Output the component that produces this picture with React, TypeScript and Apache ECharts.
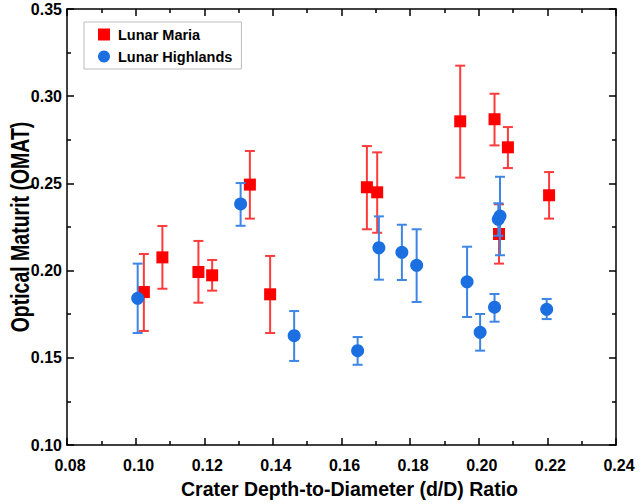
import React, { useEffect, useRef } from "react";
import * as echarts from "echarts";

const xTicks = { min: 0.08, max: 0.24, interval: 0.02 };
const yTicks = { min: 0.1, max: 0.35, interval: 0.05 };
const xTitle = "Crater Depth-to-Diameter (d/D) Ratio";
const yTitle = "Optical Maturit (OMAT)";

const mariaX = [0.1024, 0.1078, 0.1183, 0.1223, 0.1333, 0.1392, 0.1674, 0.1704, 0.1946, 0.2046, 0.2085, 0.2205, 0.2059];
const mariaY = [0.1877, 0.2076, 0.1992, 0.1973, 0.2493, 0.1864, 0.2478, 0.2449, 0.2856, 0.2868, 0.2707, 0.2432, 0.221];
const mariaHigh = [0.2095, 0.2256, 0.217, 0.2061, 0.2686, 0.2084, 0.2714, 0.2678, 0.3175, 0.3014, 0.2823, 0.2565, 0.238];
const mariaLow = [0.1654, 0.1896, 0.1816, 0.1885, 0.2298, 0.1642, 0.2237, 0.2217, 0.2533, 0.2718, 0.2588, 0.2298, 0.204];

const highX = [0.1006, 0.1306, 0.1462, 0.1647, 0.1709, 0.1776, 0.1819, 0.1966, 0.2004, 0.2046, 0.2057, 0.2062, 0.2198];
const highY = [0.1841, 0.2382, 0.1627, 0.1541, 0.2131, 0.2105, 0.203, 0.1936, 0.1646, 0.179, 0.2294, 0.2313, 0.1778];
const highHigh = [0.204, 0.2502, 0.1768, 0.1619, 0.2311, 0.2263, 0.2237, 0.2137, 0.1751, 0.1866, 0.2386, 0.2538, 0.1837];
const highLow = [0.1642, 0.2257, 0.1482, 0.146, 0.1948, 0.1946, 0.182, 0.1734, 0.1541, 0.1707, 0.22, 0.2088, 0.1722];

const RED = "#ff0000";
const RED_ERR = "#ff3b3b";
const BLUE = "#1b6fe0";
const BLUE_ERR = "#3d86e6";
const FONT = "'Liberation Sans', Arial, sans-serif";

function errorSeries(xs: number[], lows: number[], highs: number[], color: string, z: number) {
  return {
    type: "custom",
    z,
    silent: true,
    data: xs.map((x, i) => [x, lows[i], highs[i]]),
    renderItem: (_params: any, api: any) => {
      const lo = api.coord([api.value(0), api.value(1)]);
      const hi = api.coord([api.value(0), api.value(2)]);
      const hw = 5;
      const style = { stroke: color, lineWidth: 2 };
      return {
        type: "group",
        children: [
          { type: "line", shape: { x1: lo[0], y1: lo[1], x2: hi[0], y2: hi[1] }, style },
          { type: "line", shape: { x1: lo[0] - hw, y1: lo[1], x2: lo[0] + hw, y2: lo[1] }, style },
          { type: "line", shape: { x1: hi[0] - hw, y1: hi[1], x2: hi[0] + hw, y2: hi[1] }, style },
        ],
      };
    },
  };
}

const axisLineStyle = { lineStyle: { color: "#000", width: 1.5 } };

export default function App() {
  const ref = useRef<HTMLDivElement>(null);
  useEffect(() => {
    if (!ref.current) return;
    const chart = echarts.init(ref.current, null, { renderer: "svg" });
    const baseX = {
      type: "value",
      min: xTicks.min,
      max: xTicks.max,
      interval: xTicks.interval,
      axisLine: { show: true, onZero: false, ...axisLineStyle },
      axisTick: { show: true, inside: true, length: 7, lineStyle: { color: "#000", width: 1.5 } },
      minorTick: { show: true, splitNumber: 2, length: 4, lineStyle: { color: "#000", width: 1.5 } },
      splitLine: { show: false },
    };
    const baseY = {
      type: "value",
      min: yTicks.min,
      max: yTicks.max,
      interval: yTicks.interval,
      axisLine: { show: true, onZero: false, ...axisLineStyle },
      axisTick: { show: true, inside: true, length: 7, lineStyle: { color: "#000", width: 1.5 } },
      minorTick: { show: true, splitNumber: 2, length: 4, lineStyle: { color: "#000", width: 1.5 } },
      splitLine: { show: false },
    };
    chart.setOption({
      animation: false,
      backgroundColor: "#fff",
      textStyle: { fontFamily: FONT },
      grid: { left: 67, right: 25, top: 9, bottom: 59, containLabel: false },
      graphic: [
        {
          type: "text",
          x: 21,
          y: 227,
          rotation: Math.PI / 2,
          scaleY: 1.28,
          style: {
            text: yTitle,
            fontFamily: FONT,
            fontSize: 19.5,
            fontWeight: "bold",
            fill: "#000",
            align: "center",
            verticalAlign: "middle",
          },
        },
      ],
      legend: {
        left: 84,
        top: 22,
        orient: "vertical",
        itemWidth: 12,
        itemHeight: 12,
        itemGap: 7,
        padding: [5, 9, 5, 14],
        borderColor: "#bbbbbb",
        borderWidth: 1,
        backgroundColor: "#fff",
        textStyle: { fontFamily: FONT, fontSize: 14.5, fontWeight: "bold", color: "#000", padding: [0, 0, 0, 3] },
        data: [
          { name: "Lunar Maria", icon: "rect" },
          { name: "Lunar Highlands", icon: "circle" },
        ],
      },
      xAxis: [
        {
          ...baseX,
          position: "bottom",
          name: xTitle,
          nameLocation: "middle",
          nameGap: 34,
          nameTextStyle: {
            fontFamily: FONT,
            fontSize: 19.5,
            fontWeight: "bold",
            color: "#000",
            padding: [0, 0, 0, 16],
          },
          axisLabel: {
            fontFamily: FONT,
            fontSize: 16,
            fontWeight: "bold",
            color: "#000",
            margin: 12,
            padding: [0, 0, 0, 6],
            formatter: (v: number) => v.toFixed(2),
          },
        },
        { ...baseX, position: "top", axisLabel: { show: false } },
      ],
      yAxis: [
        {
          ...baseY,
          position: "left",
          axisLabel: {
            fontFamily: FONT,
            fontSize: 16,
            fontWeight: "bold",
            color: "#000",
            margin: 5,
            formatter: (v: number) => v.toFixed(2),
          },
        },
        { ...baseY, position: "right", axisLabel: { show: false } },
      ],
      series: [
        errorSeries(mariaX, mariaLow, mariaHigh, RED_ERR, 1),
        {
          name: "Lunar Maria",
          type: "scatter",
          symbol: "rect",
          symbolSize: 12,
          z: 2,
          itemStyle: { color: RED, opacity: 1 },
          data: mariaX.map((x, i) => [x, mariaY[i]]),
        },
        errorSeries(highX, highLow, highHigh, BLUE_ERR, 3),
        {
          name: "Lunar Highlands",
          type: "scatter",
          symbol: "circle",
          symbolSize: 13,
          z: 4,
          itemStyle: { color: BLUE, opacity: 1 },
          data: highX.map((x, i) => [x, highY[i]]),
        },
      ],
    });
    return () => chart.dispose();
  }, []);
  return (
    <div
      ref={ref}
      style={{ position: "fixed", left: 0, top: 0, width: 641, height: 504 }}
    />
  );
}
